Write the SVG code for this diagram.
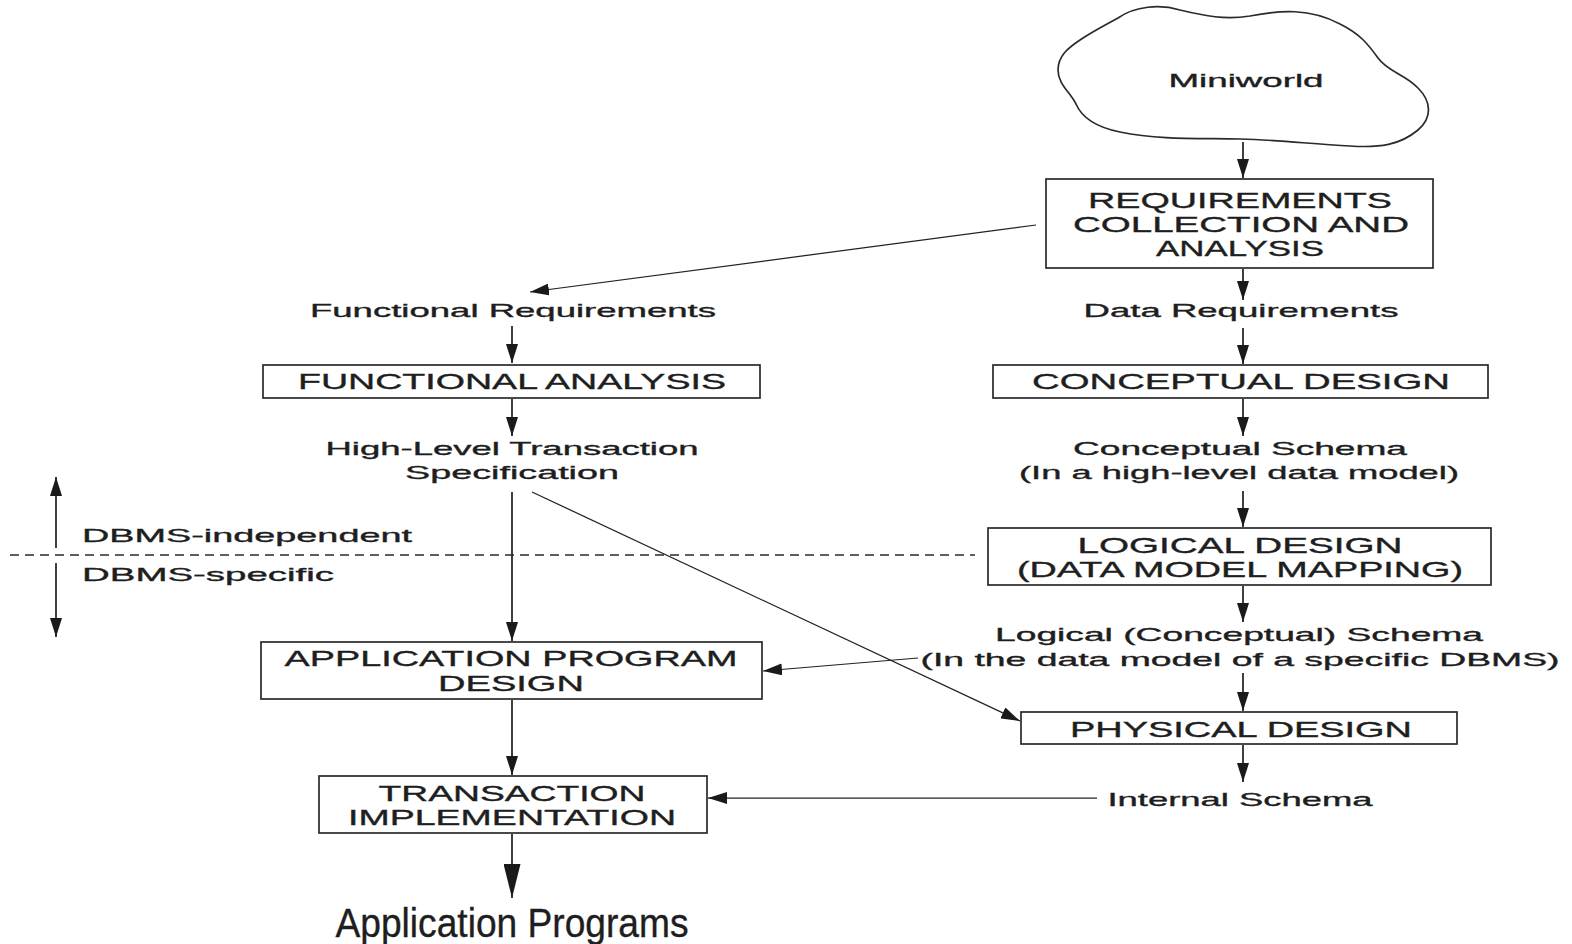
<svg xmlns="http://www.w3.org/2000/svg" width="1572" height="944" viewBox="0 0 1572 944">
  <defs>
    <style>
      .box { fill: #ffffff; stroke: #2a2a2a; stroke-width: 1.7; }
      .lbl { font-family: "Liberation Sans", Arial, sans-serif; fill: #1e1e1e; stroke: #1e1e1e; stroke-width: 0.35; text-anchor: middle; }
      .cap { font-size: 22px; }
      .txt { font-size: 19px; }
      .side { font-family: "Liberation Sans", Arial, sans-serif; fill: #1e1e1e; stroke: #1e1e1e; stroke-width: 0.35; font-size: 19px; }
      .wire { fill: none; stroke: #1e1e1e; stroke-width: 1.7; }
      .thin { fill: none; stroke: #222222; stroke-width: 1.25; }
      .dash { fill: none; stroke: #2a2a2a; stroke-width: 1.3; stroke-dasharray: 9 6; }
    </style>
    <marker id="ah" viewBox="0 0 10 10" refX="10" refY="5" markerWidth="19" markerHeight="12" markerUnits="userSpaceOnUse" orient="auto" preserveAspectRatio="none">
      <path d="M0,0 L10,5 L0,10 z" fill="#1a1a1a"/>
    </marker>
    <marker id="ahBig" viewBox="0 0 10 10" refX="10" refY="5" markerWidth="34" markerHeight="17" markerUnits="userSpaceOnUse" orient="auto" preserveAspectRatio="none">
      <path d="M0,0 L10,5 L0,10 z" fill="#1a1a1a"/>
    </marker>
  </defs>

  <rect width="1572" height="944" fill="#ffffff"/>

  <!-- connectors -->
  <g id="connectors">
    <line class="wire" x1="1243" y1="142" x2="1243" y2="178" marker-end="url(#ah)"/>
    <line class="thin" x1="1036" y1="225" x2="530" y2="292" marker-end="url(#ah)"/>
    <line class="wire" x1="1243" y1="269" x2="1243" y2="300" marker-end="url(#ah)"/>
    <line class="wire" x1="512" y1="326" x2="512" y2="363" marker-end="url(#ah)"/>
    <line class="wire" x1="1243" y1="328" x2="1243" y2="364" marker-end="url(#ah)"/>
    <line class="wire" x1="512" y1="399" x2="512" y2="436" marker-end="url(#ah)"/>
    <line class="wire" x1="1243" y1="399" x2="1243" y2="436" marker-end="url(#ah)"/>
    <line class="wire" x1="1243" y1="491" x2="1243" y2="527" marker-end="url(#ah)"/>
    <line class="wire" x1="512" y1="492" x2="512" y2="641" marker-end="url(#ah)"/>
    <line class="thin" x1="532" y1="492" x2="1020" y2="721" marker-end="url(#ah)"/>
    <line class="wire" x1="1243" y1="586" x2="1243" y2="622" marker-end="url(#ah)"/>
    <line class="thin" x1="918" y1="658" x2="763" y2="671" marker-end="url(#ah)"/>
    <line class="wire" x1="1243" y1="673" x2="1243" y2="711" marker-end="url(#ah)"/>
    <line class="wire" x1="1243" y1="745" x2="1243" y2="782" marker-end="url(#ah)"/>
    <line class="thin" x1="1097" y1="798" x2="708" y2="798" marker-end="url(#ah)"/>
    <line class="wire" x1="512" y1="700" x2="512" y2="775" marker-end="url(#ah)"/>
    <line class="wire" x1="512" y1="834" x2="512" y2="898" marker-end="url(#ahBig)"/>
  </g>

  <!-- DBMS boundary -->
  <g id="dbms-boundary">
    <line class="dash" x1="10" y1="555" x2="975" y2="555"/>
    <line class="wire" x1="56" y1="548" x2="56" y2="477" marker-end="url(#ah)"/>
    <line class="wire" x1="56" y1="563" x2="56" y2="637" marker-end="url(#ah)"/>
    <text class="side" x="82" y="542" textLength="330" lengthAdjust="spacingAndGlyphs">DBMS-independent</text>
    <text class="side" x="82" y="581" textLength="252" lengthAdjust="spacingAndGlyphs">DBMS-specific</text>
  </g>

  <!-- miniworld cloud -->
  <g id="miniworld">
    <path class="box" d="M1118,18 C1135,6 1160,4 1180,10 C1205,16 1225,20 1250,16 C1280,10 1310,8 1340,24 C1360,34 1368,44 1378,58 C1388,72 1405,74 1418,88 C1432,102 1432,118 1418,130 C1400,145 1380,148 1350,146 C1310,144 1280,140 1240,139 C1200,138 1160,140 1120,132 C1095,127 1082,118 1076,104 C1070,92 1058,84 1058,70 C1058,56 1068,48 1080,40 C1092,32 1100,28 1118,18 Z"/>
    <text class="lbl txt" x="1246" y="87" font-size="20" textLength="155" lengthAdjust="spacingAndGlyphs">Miniworld</text>
  </g>

  <g id="requirements">
    <rect class="box" x="1046" y="179" width="387" height="89"/>
    <text class="lbl cap" x="1240" y="208" textLength="304" lengthAdjust="spacingAndGlyphs">REQUIREMENTS</text>
    <text class="lbl cap" x="1241" y="232" textLength="336" lengthAdjust="spacingAndGlyphs">COLLECTION AND</text>
    <text class="lbl cap" x="1240" y="256" textLength="168" lengthAdjust="spacingAndGlyphs">ANALYSIS</text>
  </g>

  <g id="functional-requirements">
    <text class="lbl txt" x="513" y="317" textLength="406" lengthAdjust="spacingAndGlyphs">Functional Requirements</text>
  </g>

  <g id="data-requirements">
    <text class="lbl txt" x="1241" y="317" textLength="315" lengthAdjust="spacingAndGlyphs">Data Requirements</text>
  </g>

  <g id="functional-analysis">
    <rect class="box" x="263" y="365" width="497" height="33"/>
    <text class="lbl cap" x="512" y="389" textLength="428" lengthAdjust="spacingAndGlyphs">FUNCTIONAL ANALYSIS</text>
  </g>

  <g id="conceptual-design">
    <rect class="box" x="993" y="365" width="495" height="33"/>
    <text class="lbl cap" x="1241" y="389" textLength="418" lengthAdjust="spacingAndGlyphs">CONCEPTUAL DESIGN</text>
  </g>

  <g id="transaction-specification">
    <text class="lbl txt" x="512" y="455" textLength="373" lengthAdjust="spacingAndGlyphs">High-Level Transaction</text>
    <text class="lbl txt" x="512" y="479" textLength="214" lengthAdjust="spacingAndGlyphs">Specification</text>
  </g>

  <g id="conceptual-schema">
    <text class="lbl txt" x="1240" y="455" textLength="334" lengthAdjust="spacingAndGlyphs">Conceptual Schema</text>
    <text class="lbl txt" x="1239" y="479" textLength="440" lengthAdjust="spacingAndGlyphs">(In a high-level data model)</text>
  </g>

  <g id="logical-design">
    <rect class="box" x="988" y="528" width="503" height="57"/>
    <text class="lbl cap" x="1240" y="553" textLength="325" lengthAdjust="spacingAndGlyphs">LOGICAL DESIGN</text>
    <text class="lbl cap" x="1240" y="577" textLength="446" lengthAdjust="spacingAndGlyphs">(DATA MODEL MAPPING)</text>
  </g>

  <g id="logical-schema">
    <text class="lbl txt" x="1239" y="641" textLength="488" lengthAdjust="spacingAndGlyphs">Logical (Conceptual) Schema</text>
    <text class="lbl txt" x="1240" y="666" textLength="639" lengthAdjust="spacingAndGlyphs">(In the data model of a specific DBMS)</text>
  </g>

  <g id="application-program-design">
    <rect class="box" x="261" y="642" width="501" height="57"/>
    <text class="lbl cap" x="511" y="666" textLength="453" lengthAdjust="spacingAndGlyphs">APPLICATION PROGRAM</text>
    <text class="lbl cap" x="511" y="691" textLength="146" lengthAdjust="spacingAndGlyphs">DESIGN</text>
  </g>

  <g id="physical-design">
    <rect class="box" x="1021" y="712" width="436" height="32"/>
    <text class="lbl cap" x="1241" y="737" textLength="342" lengthAdjust="spacingAndGlyphs">PHYSICAL DESIGN</text>
  </g>

  <g id="internal-schema">
    <text class="lbl txt" x="1240" y="806" textLength="265" lengthAdjust="spacingAndGlyphs">Internal Schema</text>
  </g>

  <g id="transaction-implementation">
    <rect class="box" x="319" y="776" width="388" height="57"/>
    <text class="lbl cap" x="512" y="801" textLength="267" lengthAdjust="spacingAndGlyphs">TRANSACTION</text>
    <text class="lbl cap" x="512" y="825" textLength="328" lengthAdjust="spacingAndGlyphs">IMPLEMENTATION</text>
  </g>

  <g id="application-programs">
    <text class="lbl" x="512" y="937" font-size="40" textLength="353" lengthAdjust="spacingAndGlyphs">Application Programs</text>
  </g>
</svg>
